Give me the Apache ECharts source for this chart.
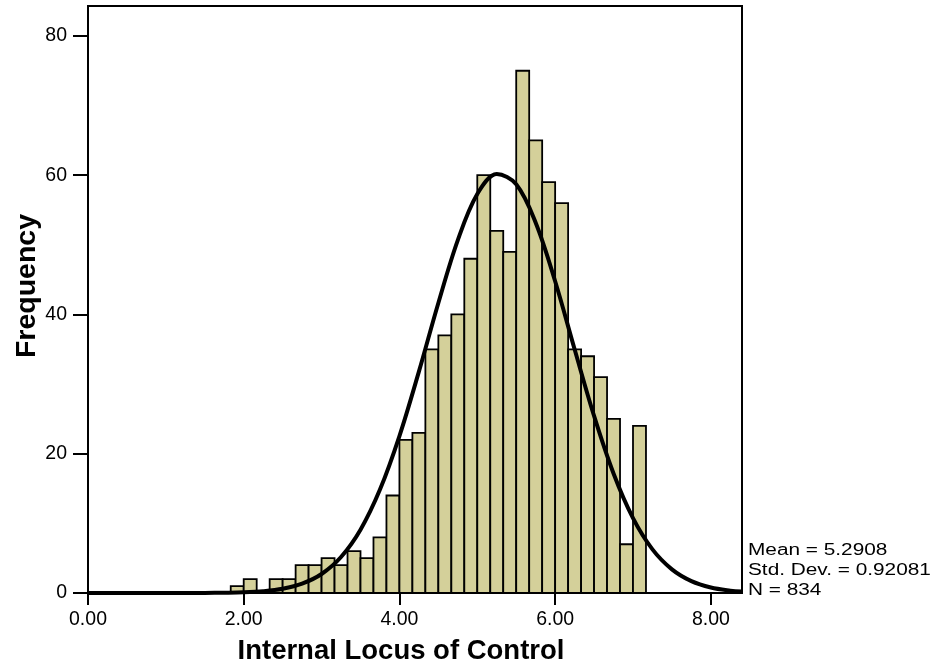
<!DOCTYPE html>
<html>
<head>
<meta charset="utf-8">
<script src="https://cdn.jsdelivr.net/npm/echarts@6/dist/echarts.min.js"></script>
<style>
html,body{margin:0;padding:0;background:#fff;}
#main{width:940px;height:666px;}
</style>
</head>
<body>
<div id="main"></div>
<script>
// Histogram bins (lower edge) and frequencies
const binStart = [1.8333,2.0000,2.1667,2.3333,2.5000,2.6667,2.8333,3.0000,3.1667,3.3333,3.5000,3.6667,3.8333,
  4.0000,4.1667,4.3333,4.5000,4.6667,4.8333,5.0000,5.1667,5.3333,5.5000,5.6667,5.8333,6.0000,6.1667,6.3333,
  6.5000,6.6667,6.8333,7.0000];
const binCount = [1,2,0,2,2,4,4,5,4,6,5,8,14,22,23,35,37,40,48,60,52,49,75,65,59,56,35,34,31,25,7,24];
const binWidth = 0.16667;

// Normal curve
const curveX = [0,0.5,1,1.5,1.75,2,2.25,2.5,2.75,3,3.25,3.5,3.75,4,4.25,4.5,4.75,5,5.25,5.5,5.75,6,6.25,6.5,6.75,7,7.25,7.5,7.75,8,8.25,8.4];
const curveY = [0,0,0,0.01,0.04,0.10,0.26,0.61,1.34,2.73,5.17,9.09,14.85,22.54,31.79,41.65,50.68,57.29,60.16,58.69,53.18,44.77,35.00,25.43,17.16,10.75,6.26,3.39,1.70,0.79,0.34,0.20];

const xTicks = [0,2,4,6,8];
const yTicks = [0,20,40,60,80];
const xTitle = 'Internal Locus of Control';
const yTitle = 'Frequency';
const statLines = ['Mean = 5.2908','Std. Dev. = 0.92081','N = 834'];

const chart = echarts.init(document.getElementById('main'), null, {renderer:'canvas'});
const FONT = "'Liberation Sans', Arial, sans-serif";

const barData = binStart.map((s,i)=>[s, s+binWidth, binCount[i]]);
const lineData = curveX.map((x,i)=>[x, curveY[i]]);

chart.setOption({
  animation:false,
  backgroundColor:'#fff',
  grid:{left:88,right:198,top:6,bottom:73,show:true,borderColor:'#000',borderWidth:2,backgroundColor:'transparent'},
  xAxis:{
    type:'value',min:0,max:8.4,
    axisLine:{show:true,lineStyle:{color:'#000',width:2}},
    axisTick:{show:true,length:12,lineStyle:{color:'#000',width:2},customValues:xTicks},
    axisLabel:{show:true,color:'#000',fontSize:19.5,fontFamily:FONT,margin:17,customValues:xTicks,
      formatter:v=>Number(v).toFixed(2)},
    splitLine:{show:false}
  },
  yAxis:{
    type:'value',min:0,max:84.3,
    axisLine:{show:true,lineStyle:{color:'#000',width:2}},
    axisTick:{show:true,length:15,lineStyle:{color:'#000',width:2},customValues:yTicks},
    axisLabel:{show:true,color:'#000',fontSize:19.5,fontFamily:FONT,margin:21,customValues:yTicks},
    splitLine:{show:false}
  },
  series:[
    {
      type:'custom',
      data:barData,
      encode:{x:[0,1],y:2},
      clip:true,
      renderItem:function(params, api){
        const s=api.value(0), e=api.value(1), c=api.value(2);
        if(!c) return null;
        const p0=api.coord([s,0]);
        const p1=api.coord([e,c]);
        return {type:'rect',
          shape:{x:p0[0],y:p1[1],width:p1[0]-p0[0],height:p0[1]-p1[1]},
          style:{fill:'#d4d09a',stroke:'#000',lineWidth:1.8}};
      },
      z:2
    },
    {
      type:'line',
      data:lineData,
      smooth:0.35,
      symbol:'none',
      lineStyle:{color:'#000',width:4},
      z:5
    }
  ],
  graphic:[
    {type:'text',x:401,y:651,style:{text:xTitle,font:"bold 27.5px "+FONT,fill:'#000',textAlign:'center',textVerticalAlign:'middle'}},
    {type:'text',x:27,y:286,rotation:Math.PI/2,style:{text:yTitle,font:"bold 28.5px "+FONT,fill:'#000',textAlign:'center',textVerticalAlign:'middle'}},
    {type:'text',x:748,y:550.5,scaleX:1.3,style:{text:statLines[0],font:"16px "+FONT,fill:'#000',textAlign:'left',textVerticalAlign:'middle'}},
    {type:'text',x:748,y:570.5,scaleX:1.3,style:{text:statLines[1],font:"16px "+FONT,fill:'#000',textAlign:'left',textVerticalAlign:'middle'}},
    {type:'text',x:748,y:590.5,scaleX:1.3,style:{text:statLines[2],font:"16px "+FONT,fill:'#000',textAlign:'left',textVerticalAlign:'middle'}}
  ]
});
</script>
</body>
</html>
